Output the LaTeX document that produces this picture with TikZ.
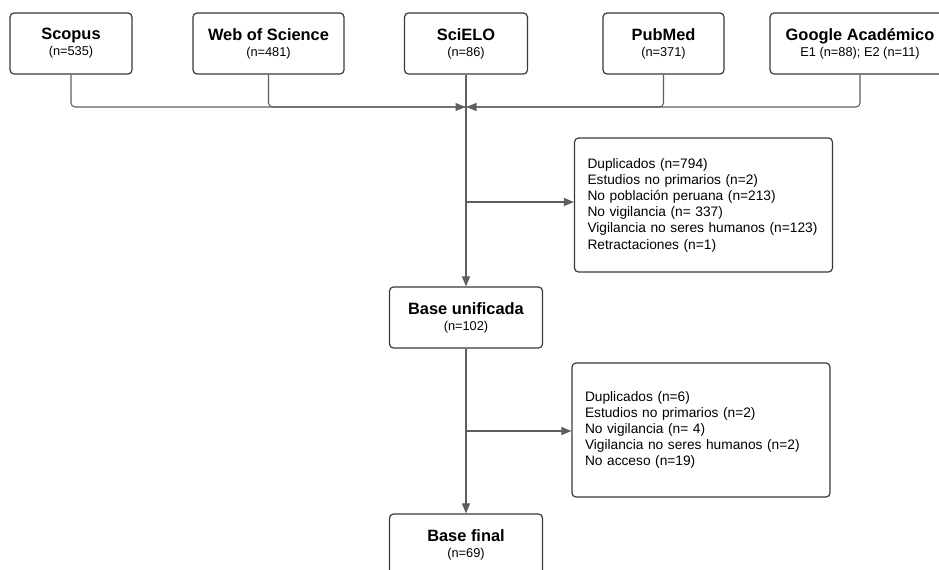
\documentclass[tikz,border=0pt]{standalone}
\usepackage{fontspec}
\setmainfont{Liberation Sans}
\usetikzlibrary{arrows.meta}
\definecolor{boxc}{HTML}{3A3A3A}
\definecolor{linec}{HTML}{5E5E5E}
\begin{document}
\begin{tikzpicture}[x=0.75pt,y=-0.75pt,
  srcbox/.style={draw=boxc, line width=0.9pt, rounded corners=3pt, fill=white, inner sep=0pt,
    align=center, minimum height=45.75pt, font=\fontsize{9.6}{11.5}\selectfont},
  exbox/.style={draw=boxc, line width=0.9pt, rounded corners=3pt, fill=white, inner xsep=9.75pt, inner ysep=0pt,
    align=left, text width=174pt, minimum height=100.5pt, font=\fontsize{10.3}{12.15}\selectfont},
  ttl/.style={font=\bfseries\fontsize{12.3}{14}\selectfont},
  conn/.style={draw=linec, line width=0.8pt, rounded corners=3pt},
  arr/.style={conn, -{Triangle[length=7.5pt,width=6pt]}}]
\clip (0,0) rectangle (939,569);
\fill[white] (0,0) rectangle (939,569);
\newcommand{\ttlx}[1]{{\bfseries\fontsize{12.3}{14}\selectfont #1}}
% source boxes
\node[srcbox, minimum width=91.5pt] (scopus) at (71,43.5) {\ttlx{Scopus}\\[0.5pt](n=535)};
\node[srcbox, minimum width=113.25pt] (wos) at (268.5,43.5) {\ttlx{Web of Science}\\[0.5pt](n=481)};
\node[srcbox, minimum width=92.25pt] (scielo) at (466,43.5) {\ttlx{SciELO}\\[0.5pt](n=86)};
\node[srcbox, minimum width=90.75pt] (pubmed) at (663.5,43.5) {\ttlx{PubMed}\\[0.5pt](n=371)};
\node[srcbox, minimum width=135pt] (google) at (860,43.5) {\ttlx{Google Académico}\\[0.5pt]E1 (n=88); E2 (n=11)};
% merge
\coordinate (mergeL) at (465.5,107);
\coordinate (mergeR) at (466.5,107);
\draw[arr] (scopus.south) |- (mergeL);
\draw[conn] (wos.south) |- (mergeL);
\draw[arr] (google.south) |- (mergeR);
\draw[conn] (pubmed.south) |- (mergeR);
% unified base
\node[srcbox, minimum width=114.75pt] (unif) at (466,317.5) {\ttlx{Base unificada}\\[0.5pt](n=102)};
\node[exbox] (ex1) at (703.5,205) {Duplicados (n=794)\\Estudios no primarios (n=2)\\No población peruana (n=213)\\No vigilancia (n= 337)\\Vigilancia no seres humanos (n=123)\\Retractaciones (n=1)};
\draw[arr] (scielo.south) -- (unif.north);
\coordinate (b1) at (466,202);
\draw[arr] (b1) -- (b1 -| ex1.west);
% final base
\node[srcbox, minimum width=114.75pt] (final) at (466,544.5) {\ttlx{Base final}\\[0.5pt](n=69)};
\node[exbox] (ex2) at (701,430) {Duplicados (n=6)\\Estudios no primarios (n=2)\\No vigilancia (n= 4)\\Vigilancia no seres humanos (n=2)\\No acceso (n=19)};
\draw[arr] (unif.south) -- (final.north);
\coordinate (b2) at (466,431);
\draw[arr] (b2) -- (b2 -| ex2.west);
\end{tikzpicture}
\end{document}
